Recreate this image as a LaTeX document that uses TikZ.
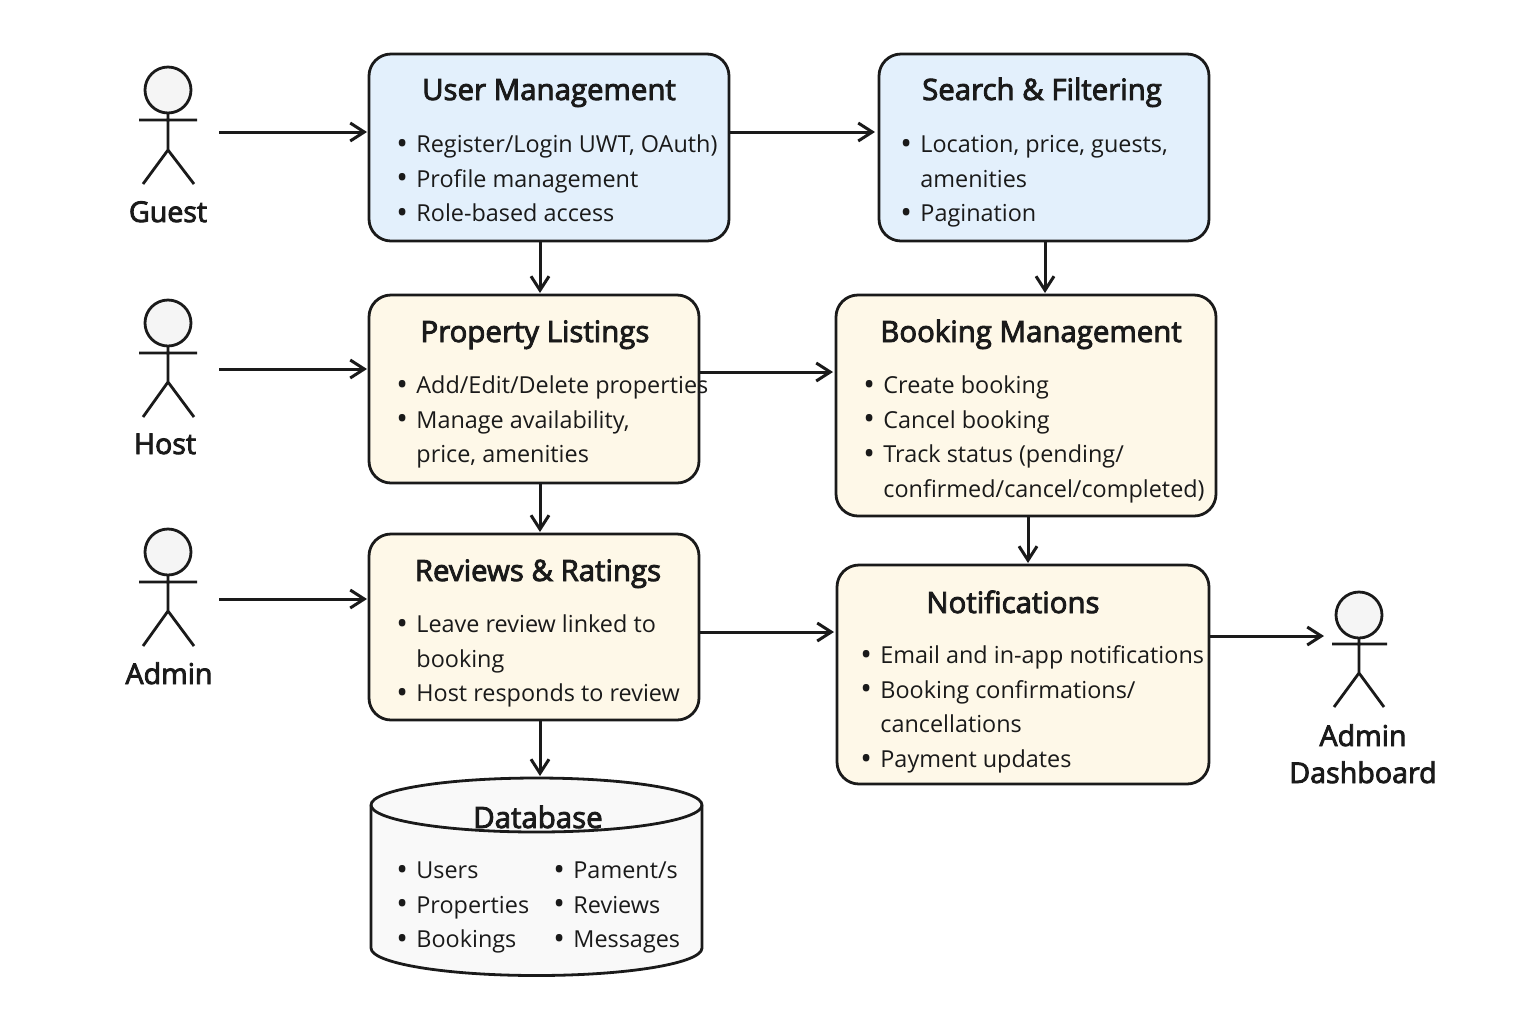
\documentclass[tikz,border=0pt]{standalone}
\usepackage{fontspec}
\usetikzlibrary{arrows.meta, positioning, calc}
\setmainfont{Open Sans}
\newfontfamily\headfont[FakeBold=3]{Open Sans}

\definecolor{inkline}{HTML}{1A1A1A}
\definecolor{bluefill}{HTML}{E3F0FC}
\definecolor{creamfill}{HTML}{FEF8E8}
\definecolor{dbfill}{HTML}{F9F9F9}
\definecolor{headfill}{HTML}{F5F5F5}

\newcommand{\li}{\rule{0pt}{12pt}\makebox[10pt][l]{\raisebox{-0.9pt}{\fontsize{15.5}{15.5}\selectfont\textbullet}}}
\newcommand{\lc}{\rule{0pt}{12pt}\hspace*{10pt}}

\tikzset{
    panel/.style={draw=inkline, line width=1.4pt, rounded corners=11pt, inner sep=0pt, outer sep=0pt},
    bluepanel/.style={panel, fill=bluefill},
    creampanel/.style={panel, fill=creamfill},
    flow/.style={draw=inkline, line width=1.5pt, shorten >=1pt, -{Straight Barb[length=7pt, width=9pt, line width=1.5pt]}},
    title/.style={text=inkline, anchor=base, inner sep=0pt, font=\headfont\fontsize{14.7}{17}\selectfont},
    actorname/.style={text=inkline, anchor=base, inner sep=0pt, align=center, font=\headfont\fontsize{14.3}{18.5}\selectfont},
    items/.style={text=inkline, anchor=north west, inner sep=0pt, align=left, font=\fontsize{11.7}{17.35}\selectfont},
    actorhead/.style={circle, draw=inkline, fill=headfill, line width=1.4pt, minimum size=23pt, inner sep=0pt, outer sep=0pt},
    actorline/.style={draw=inkline, line width=1.4pt},
    dbline/.style={draw=inkline, line width=1.4pt},
}

\begin{document}
\begin{tikzpicture}[x=0.5pt, y=-0.5pt]
    \useasboundingbox (0,0) rectangle (1536,1024);

    % The boxes
    \node[bluepanel, minimum width=180pt, minimum height=93.5pt] (usermgmt) at (549,147.5) {};
    \node[bluepanel, minimum width=165pt, minimum height=93.5pt] (search) at (1044,147.5) {};
    \node[creampanel, minimum width=165pt, minimum height=94pt] (listings) at (534,389) {};
    \node[creampanel, minimum width=190pt, minimum height=110.5pt] (booking) at (1026,405.5) {};
    \node[creampanel, minimum width=165pt, minimum height=93pt] (reviews) at (534,627) {};
    \node[creampanel, minimum width=186pt, minimum height=109.5pt] (notify) at (1023,674.5) {};

    % The database
    \node[minimum width=165.5pt, minimum height=98.5pt, inner sep=0pt, outer sep=0pt] (database) at (536.5,876.5) {};
    \draw[dbline, fill=dbfill] (database.north west) ++(0,27) -- ++(0,143)
        arc[start angle=180, end angle=360, x radius=82.75pt, y radius=13.75pt] -- ++(0,-143)
        arc[start angle=0, end angle=180, x radius=82.75pt, y radius=13.5pt] -- cycle;
    \draw[dbline] (database.north west) ++(0,27) arc[start angle=180, end angle=360, x radius=82.75pt, y radius=13.5pt];

    % The actors
    \node[actorhead] (guest) at (168,90) {};
    \draw[actorline] (guest.south) -- ++(0,37) ++(-25,34) -- ++(25,-34) -- ++(26,34) (guest.south) ++(-29,7) -- ++(58,0);
    \node[actorhead] (host) at (168,323) {};
    \draw[actorline] (host.south) -- ++(0,36) ++(-25,35) -- ++(25,-35) -- ++(26,35) (host.south) ++(-29,7) -- ++(58,0);
    \node[actorhead] (admin) at (168,552) {};
    \draw[actorline] (admin.south) -- ++(0,36) ++(-25,35) -- ++(25,-35) -- ++(26,35) (admin.south) ++(-29,7) -- ++(58,0);
    \node[actorhead] (dashboard) at (1359,615) {};
    \draw[actorline] (dashboard.south) -- ++(0,35) ++(-25,34) -- ++(25,-34) -- ++(25,34) (dashboard.south) ++(-27,6) -- ++(55,0);

    % Where the arrows run
    \coordinate (guestout) at (219,132);
    \coordinate (hostout) at (219,369);
    \coordinate (adminout) at (219,599);
    \coordinate (laneb) at (0,372);
    \coordinate (lanec) at (0,632);
    \coordinate (laned) at (0,636);
    \coordinate (stema) at (540,0);
    \coordinate (stemb) at (1045,0);
    \coordinate (stemc) at (1028,0);

    % The arrows
    \draw[flow] (guestout) -- (guestout -| usermgmt.west);
    \draw[flow] (hostout) -- (hostout -| listings.west);
    \draw[flow] (adminout) -- (adminout -| reviews.west);
    \draw[flow, shorten >=2pt] (usermgmt.east |- guestout) -- (search.west |- guestout);
    \draw[flow, shorten >=1.5pt] (listings.east |- laneb) -- (booking.west |- laneb);
    \draw[flow, shorten >=1.5pt] (reviews.east |- lanec) -- (notify.west |- lanec);
    \draw[flow, shorten >=6pt] (notify.east |- laned) -- (dashboard.west |- laned);
    \draw[flow] (usermgmt.south -| stema) -- (listings.north -| stema);
    \draw[flow] (listings.south -| stema) -- (reviews.north -| stema);
    \draw[flow] (reviews.south -| stema) -- (database.north -| stema);
    \draw[flow] (search.south -| stemb) -- (booking.north -| stemb);
    \draw[flow] (booking.south -| stemc) -- (notify.north -| stemc);

    % Titles
    \node[title] (usertitle) at (549,100) {User Management};
    \node[title] (searchtitle) at (1042,100) {Search \& Filtering};
    \node[title] (listingstitle) at (535,342) {Property Listings};
    \node[title] (bookingtitle) at (1031,342) {Booking Management};
    \node[title] (reviewstitle) at (538,581) {Reviews \& Ratings};
    \node[title] (notifytitle) at (1013,613) {Notifications};
    \node[title] (databasetitle) at (538,828) {Database};

    % Lists
    \node[items] (useritems) at (396,128) {\li Register/Login UWT, OAuth)\\\li Profile management\\\li Role-based access};
    \node[items] (searchitems) at (900,128) {\li Location, price, guests,\\\lc amenities\\\li Pagination};
    \node[items] (listingsitems) at (396,369) {\li Add/Edit/Delete properties\\\li Manage availability,\\\lc price, amenities};
    \node[items] (bookingitems) at (863,369) {\li Create booking\\\li Cancel booking\\\li Track status (pending/\\\lc confirmed/cancel/completed)};
    \node[items] (reviewsitems) at (396,608) {\li Leave review linked to\\\lc booking\\\li Host responds to review};
    \node[items] (notifyitems) at (860,639) {\li Email and in-app notifications\\\li Booking confirmations/\\\lc cancellations\\\li Payment updates};
    \node[items] (dbleft) at (396,854) {\li Users\\\li Properties\\\li Bookings};
    \node[items] (dbright) at (553,854) {\li Pament/s\\\li Reviews\\\li Messages};

    % Actor names
    \node[actorname] (guestname) at (168,222) {Guest};
    \node[actorname] (hostname) at (165,454) {Host};
    \node[actorname] (adminname) at (169,684) {Admin};
    \node[actorname, anchor=base] (dashboardname) at (1363,783) {Admin\\Dashboard};
\end{tikzpicture}
\end{document}
